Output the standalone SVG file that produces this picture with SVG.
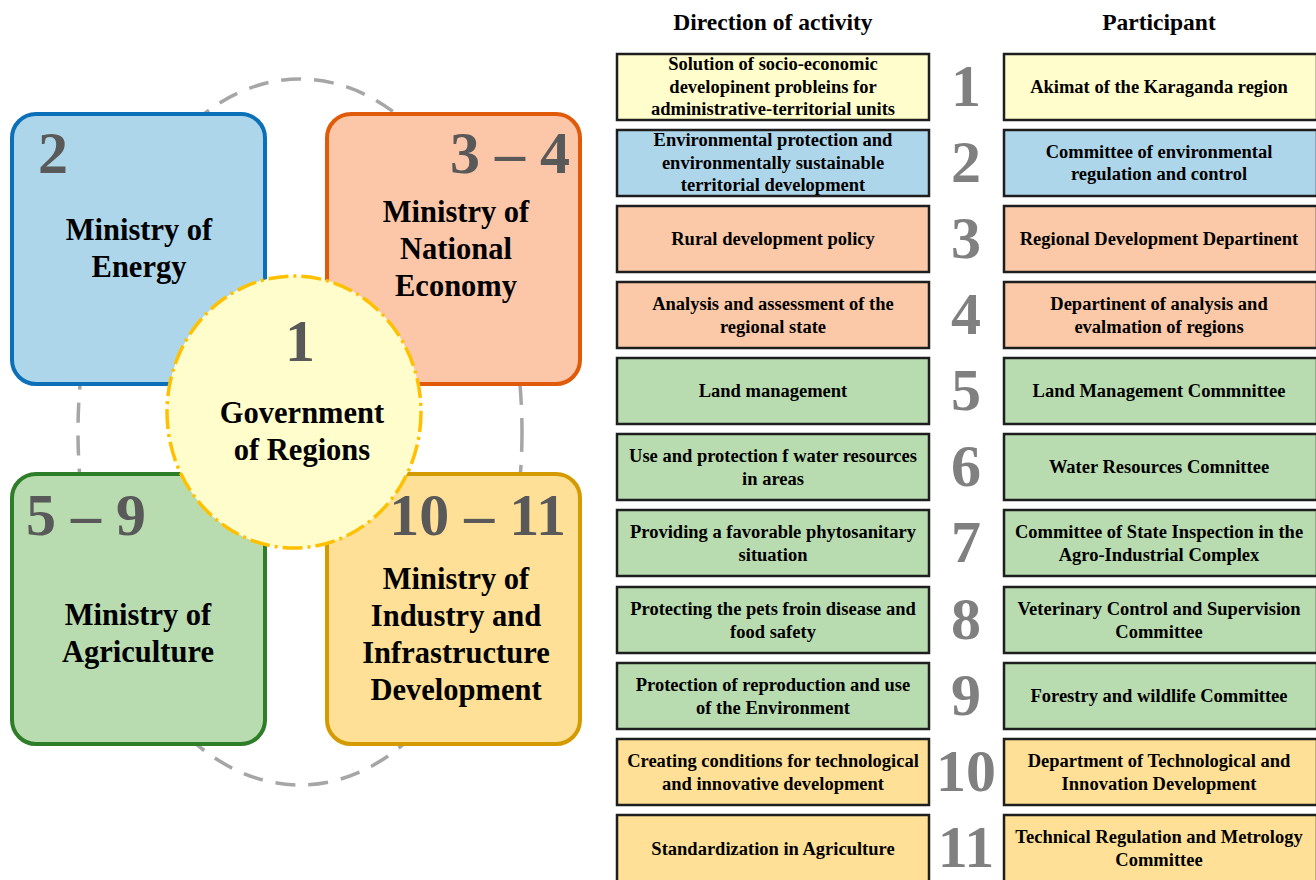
<svg xmlns="http://www.w3.org/2000/svg" width="1316" height="880" viewBox="0 0 1316 880">
<style>
text{font-family:"Liberation Serif","Times New Roman",serif;font-weight:bold;text-anchor:middle}
.big{font-size:60px;fill:#595959}
.mname{font-size:30.5px;fill:#000}
.hdr{font-size:23.5px;fill:#000}
.cell{stroke:#1e1e1e;stroke-width:2.5}
.ct{font-size:18.5px;fill:#000}
.num{font-size:60px;fill:#808080}
.y{fill:#FFFDCC}.b{fill:#AED6EB}.o{fill:#FBC8A8}.g{fill:#B8DCB0}.d{fill:#FFE096}
</style>
<rect width="1316" height="880" fill="#fff"/>
<g id="ring">
<ellipse cx="300" cy="432" rx="222" ry="353" fill="none" stroke="#A6A6A6" stroke-width="3.5" stroke-dasharray="20 13"/>
</g>
<g id="ministry-energy">
<rect x="12" y="114" width="253" height="270" rx="24" fill="#AED6EB" stroke="#0C70B8" stroke-width="4"/>
</g>
<g id="ministry-economy">
<rect x="327" y="114" width="253" height="270" rx="24" fill="#FCC7A8" stroke="#E05A0A" stroke-width="4"/>
</g>
<g id="ministry-agriculture">
<rect x="12" y="474" width="253" height="270" rx="24" fill="#B8DCB0" stroke="#2E7D28" stroke-width="4"/>
</g>
<g id="ministry-industry">
<rect x="327" y="474" width="253" height="270" rx="24" fill="#FFE096" stroke="#D49A00" stroke-width="4"/>
</g>
<g id="government">
<ellipse cx="294" cy="412" rx="127" ry="136" fill="#FFFDCC" stroke="#FFC000" stroke-width="3.5" stroke-dasharray="20 5 3 5"/>
<text class="big" x="300" y="361">1</text>
<text class="mname" x="302" y="423">Government</text>
<text class="mname" x="302" y="460">of Regions</text>
</g>
<g id="ministry-labels">
<text class="big" x="38" y="173" style="text-anchor:start">2</text>
<text class="mname" x="139" y="240">Ministry of</text>
<text class="mname" x="139" y="277">Energy</text>
<text class="big" x="570" y="173" style="text-anchor:end">3 – 4</text>
<text class="mname" x="456" y="222">Ministry of</text>
<text class="mname" x="456" y="259">National</text>
<text class="mname" x="456" y="296">Economy</text>
<text class="big" x="26" y="535" style="text-anchor:start">5 – 9</text>
<text class="mname" x="138" y="625">Ministry of</text>
<text class="mname" x="138" y="662">Agriculture</text>
<text class="big" x="566" y="535" style="text-anchor:end">10 – 11</text>
<text class="mname" x="456" y="589">Ministry of</text>
<text class="mname" x="456" y="626">Industry and</text>
<text class="mname" x="456" y="663">Infrastructure</text>
<text class="mname" x="456" y="700">Development</text>
</g>
<g id="headers">
<text class="hdr" x="773" y="30">Direction of activity</text>
<text class="hdr" x="1159" y="30">Participant</text>
</g>
<g id="row1">
<rect class="cell y" x="617" y="54" width="312" height="66"/>
<rect class="cell y" x="1004" y="54" width="313" height="66"/>
<text class="num" x="966" y="106">1</text>
<text class="ct" x="773" y="70">Solution of socio-economic</text>
<text class="ct" x="773" y="93">developinent probleins for</text>
<text class="ct" x="773" y="115">administrative-territorial units</text>
<text class="ct" x="1159" y="93">Akimat of the Karaganda region</text>
</g>
<g id="row2">
<rect class="cell b" x="617" y="130" width="312" height="66"/>
<rect class="cell b" x="1004" y="130" width="313" height="66"/>
<text class="num" x="966" y="182">2</text>
<text class="ct" x="773" y="146">Environmental protection and</text>
<text class="ct" x="773" y="169">environmentally sustainable</text>
<text class="ct" x="773" y="191">territorial development</text>
<text class="ct" x="1159" y="158">Committee of environmental</text>
<text class="ct" x="1159" y="180">regulation and control</text>
</g>
<g id="row3">
<rect class="cell o" x="617" y="206" width="312" height="66"/>
<rect class="cell o" x="1004" y="206" width="313" height="66"/>
<text class="num" x="966" y="258">3</text>
<text class="ct" x="773" y="245">Rural development policy</text>
<text class="ct" x="1159" y="245">Regional Development Departinent</text>
</g>
<g id="row4">
<rect class="cell o" x="617" y="282" width="312" height="66"/>
<rect class="cell o" x="1004" y="282" width="313" height="66"/>
<text class="num" x="966" y="334">4</text>
<text class="ct" x="773" y="310">Analysis and assessment of the</text>
<text class="ct" x="773" y="333">regional state</text>
<text class="ct" x="1159" y="310">Departinent of analysis and</text>
<text class="ct" x="1159" y="333">evalmation of regions</text>
</g>
<g id="row5">
<rect class="cell g" x="617" y="358" width="312" height="66"/>
<rect class="cell g" x="1004" y="358" width="313" height="66"/>
<text class="num" x="966" y="410">5</text>
<text class="ct" x="773" y="397">Land management</text>
<text class="ct" x="1159" y="397">Land Management Commnittee</text>
</g>
<g id="row6">
<rect class="cell g" x="617" y="434" width="312" height="66"/>
<rect class="cell g" x="1004" y="434" width="313" height="66"/>
<text class="num" x="966" y="486">6</text>
<text class="ct" x="773" y="462">Use and protection f water resources</text>
<text class="ct" x="773" y="485">in areas</text>
<text class="ct" x="1159" y="473">Water Resources Comnittee</text>
</g>
<g id="row7">
<rect class="cell g" x="617" y="510" width="312" height="66"/>
<rect class="cell g" x="1004" y="510" width="313" height="66"/>
<text class="num" x="966" y="562">7</text>
<text class="ct" x="773" y="538">Providing a favorable phytosanitary</text>
<text class="ct" x="773" y="561">situation</text>
<text class="ct" x="1159" y="538">Committee of State Inspection in the</text>
<text class="ct" x="1159" y="561">Agro-Industrial Complex</text>
</g>
<g id="row8">
<rect class="cell g" x="617" y="587" width="312" height="66"/>
<rect class="cell g" x="1004" y="587" width="313" height="66"/>
<text class="num" x="966" y="639">8</text>
<text class="ct" x="773" y="615">Protecting the pets froin disease and</text>
<text class="ct" x="773" y="638">food safety</text>
<text class="ct" x="1159" y="615">Veterinary Control and Supervision</text>
<text class="ct" x="1159" y="638">Committee</text>
</g>
<g id="row9">
<rect class="cell g" x="617" y="663" width="312" height="66"/>
<rect class="cell g" x="1004" y="663" width="313" height="66"/>
<text class="num" x="966" y="715">9</text>
<text class="ct" x="773" y="691">Protection of reproduction and use</text>
<text class="ct" x="773" y="714">of the Environment</text>
<text class="ct" x="1159" y="702">Forestry and wildlife Committee</text>
</g>
<g id="row10">
<rect class="cell d" x="617" y="739" width="312" height="66"/>
<rect class="cell d" x="1004" y="739" width="313" height="66"/>
<text class="num" x="966" y="791">10</text>
<text class="ct" x="773" y="767">Creating conditions for technological</text>
<text class="ct" x="773" y="790">and innovative development</text>
<text class="ct" x="1159" y="767">Department of Technological and</text>
<text class="ct" x="1159" y="790">Innovation Development</text>
</g>
<g id="row11">
<rect class="cell d" x="617" y="815" width="312" height="70"/>
<rect class="cell d" x="1004" y="815" width="313" height="70"/>
<text class="num" x="966" y="867">11</text>
<text class="ct" x="773" y="855">Standardization in Agriculture</text>
<text class="ct" x="1159" y="843">Technical Regulation and Metrology</text>
<text class="ct" x="1159" y="866">Committee</text>
</g>
</svg>
